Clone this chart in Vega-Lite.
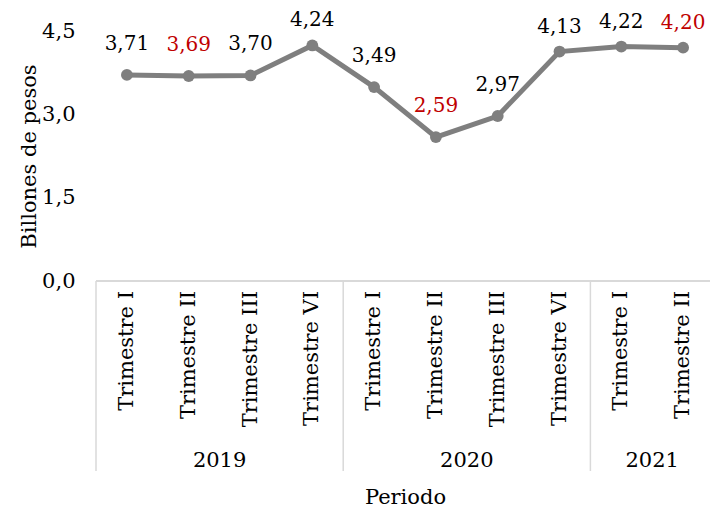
{
  "$schema": "https://vega.github.io/schema/vega-lite/v6.json",
  "padding": {"left": 18, "top": 10, "right": 0, "bottom": 0},
  "spacing": 0,
  "bounds": "flush",
  "config": {
    "view": {"stroke": null},
    "font": "DejaVu Serif",
    "locale": {"number": {"decimal": ",", "thousands": ".", "grouping": [3], "currency": ["$", ""]}}
  },
  "datasets": {
    "serie": [
      {"clave": "2019 T1", "anio": "2019", "trimestre": "Trimestre I", "valor": 3.71, "resaltado": "no"},
      {"clave": "2019 T2", "anio": "2019", "trimestre": "Trimestre II", "valor": 3.69, "resaltado": "si"},
      {"clave": "2019 T3", "anio": "2019", "trimestre": "Trimestre III", "valor": 3.70, "resaltado": "no"},
      {"clave": "2019 T4", "anio": "2019", "trimestre": "Trimestre VI", "valor": 4.24, "resaltado": "no"},
      {"clave": "2020 T1", "anio": "2020", "trimestre": "Trimestre I", "valor": 3.49, "resaltado": "no"},
      {"clave": "2020 T2", "anio": "2020", "trimestre": "Trimestre II", "valor": 2.59, "resaltado": "si"},
      {"clave": "2020 T3", "anio": "2020", "trimestre": "Trimestre III", "valor": 2.97, "resaltado": "no"},
      {"clave": "2020 T4", "anio": "2020", "trimestre": "Trimestre VI", "valor": 4.13, "resaltado": "no"},
      {"clave": "2021 T1", "anio": "2021", "trimestre": "Trimestre I", "valor": 4.22, "resaltado": "no"},
      {"clave": "2021 T2", "anio": "2021", "trimestre": "Trimestre II", "valor": 4.20, "resaltado": "si"}
    ]
  },
  "data": {"name": "serie"},
  "vconcat": [
    {
      "width": 618,
      "height": 250,
      "encoding": {
        "x": {
          "field": "clave", "type": "ordinal", "bandPosition": 0.5,
          "scale": {"type": "band", "paddingInner": 0, "paddingOuter": 0,
            "domain": ["2019 T1","2019 T2","2019 T3","2019 T4","2020 T1","2020 T2","2020 T3","2020 T4","2021 T1","2021 T2"]},
          "axis": null
        },
        "y": {
          "field": "valor", "type": "quantitative",
          "scale": {"domain": [0, 4.5]},
          "axis": {
            "values": [0, 1.5, 3, 4.5], "format": ".1f", "title": "Billones de pesos",
            "grid": false, "domain": false, "ticks": false,
            "labelFont": "DejaVu Serif", "labelFontSize": 21, "labelColor": "#000000", "labelPadding": 21,
            "titleFont": "DejaVu Serif", "titleFontSize": 21, "titleFontWeight": "normal", "titleColor": "#000000", "titlePadding": 2
          }
        }
      },
      "layer": [
        {"mark": {"type": "rule", "color": "#d9d9d9", "strokeWidth": 1.5}, "encoding": {"y": {"datum": 0}, "x": null}},
        {"mark": {"type": "line", "color": "#7f7f7f", "strokeWidth": 5}},
        {"mark": {"type": "point", "filled": true, "opacity": 1, "color": "#7f7f7f", "size": 140}},
        {
          "transform": [{"filter": "datum.valor < 4.1"}],
          "mark": {"type": "text", "dy": -31, "fontSize": 20, "font": "DejaVu Serif"},
          "encoding": {
            "text": {"field": "valor", "type": "quantitative", "format": ".2f"},
            "color": {"field": "resaltado", "type": "nominal", "scale": {"domain": ["no", "si"], "range": ["#000000", "#c00000"]}, "legend": null}
          }
        },
        {
          "transform": [{"filter": "datum.valor >= 4.1"}],
          "mark": {"type": "text", "dy": -25, "fontSize": 20, "font": "DejaVu Serif"},
          "encoding": {
            "text": {"field": "valor", "type": "quantitative", "format": ".2f"},
            "color": {"field": "resaltado", "type": "nominal", "scale": {"domain": ["no", "si"], "range": ["#000000", "#c00000"]}, "legend": null}
          }
        }
      ]
    },
    {
      "width": 618,
      "height": 190,
      "transform": [
        {"window": [{"op": "row_number", "as": "pos"}], "groupby": ["anio"], "sort": [{"field": "clave"}]},
        {"joinaggregate": [{"op": "count", "as": "n"}], "groupby": ["anio"]}
      ],
      "layer": [
        {
          "transform": [{"filter": "datum.pos == 1"}],
          "mark": {"type": "rule", "color": "#d9d9d9", "strokeWidth": 1.5},
          "encoding": {
            "x": {
              "field": "clave", "type": "ordinal", "bandPosition": 0,
              "scale": {"type": "band", "paddingInner": 0, "paddingOuter": 0,
                "domain": ["2019 T1","2019 T2","2019 T3","2019 T4","2020 T1","2020 T2","2020 T3","2020 T4","2021 T1","2021 T2"]},
              "axis": {"labels": false, "ticks": false, "domain": false, "title": "Periodo", "titleFont": "DejaVu Serif", "titleFontSize": 21, "titleFontWeight": "normal", "titleColor": "#000000", "titlePadding": 15}
            }
          }
        },
        {
          "mark": {"type": "text", "angle": 270, "align": "right", "baseline": "middle", "fontSize": 21, "font": "DejaVu Serif", "color": "#000000"},
          "encoding": {
            "x": {
              "field": "clave", "type": "ordinal", "bandPosition": 0.5,
              "scale": {"type": "band", "paddingInner": 0, "paddingOuter": 0,
                "domain": ["2019 T1","2019 T2","2019 T3","2019 T4","2020 T1","2020 T2","2020 T3","2020 T4","2021 T1","2021 T2"]},
              "axis": {"labels": false, "ticks": false, "domain": false, "title": "Periodo", "titleFont": "DejaVu Serif", "titleFontSize": 21, "titleFontWeight": "normal", "titleColor": "#000000", "titlePadding": 15}
            },
            "y": {"datum": "trimestre", "type": "ordinal", "scale": {"type": "point", "domain": ["trimestre", "anio"], "padding": 0.0588}, "axis": null},
            "text": {"field": "trimestre", "type": "nominal"}
          }
        },
        {
          "transform": [{"filter": "datum.pos == floor(datum.n / 2) + 1"}],
          "mark": {"type": "text", "align": "center", "baseline": "middle", "fontSize": 21, "font": "DejaVu Serif", "color": "#000000"},
          "encoding": {
            "x": {
              "field": "clave", "type": "ordinal", "bandPosition": 0,
              "scale": {"type": "band", "paddingInner": 0, "paddingOuter": 0,
                "domain": ["2019 T1","2019 T2","2019 T3","2019 T4","2020 T1","2020 T2","2020 T3","2020 T4","2021 T1","2021 T2"]},
              "axis": {"labels": false, "ticks": false, "domain": false, "title": "Periodo", "titleFont": "DejaVu Serif", "titleFontSize": 21, "titleFontWeight": "normal", "titleColor": "#000000", "titlePadding": 15}
            },
            "y": {"datum": "anio", "type": "ordinal", "scale": {"type": "point", "domain": ["trimestre", "anio"], "padding": 0.0588}, "axis": null},
            "text": {"field": "anio", "type": "nominal"}
          }
        }
      ]
    }
  ]
}
